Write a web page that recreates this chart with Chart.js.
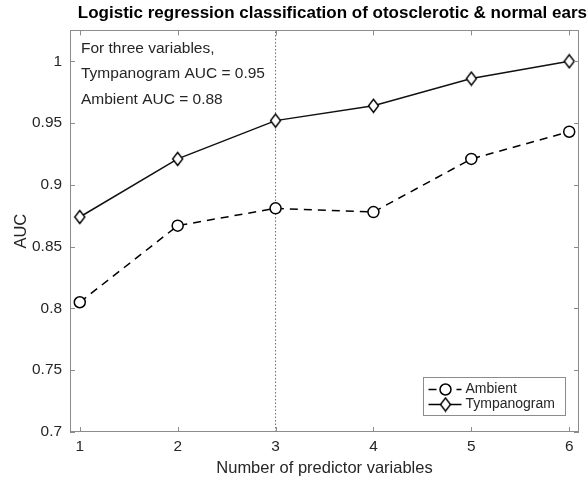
<!DOCTYPE html>
<html>
<head>
<meta charset="utf-8">
<script src="https://cdn.jsdelivr.net/npm/chart.js@4"></script>
<style>
  html, body { margin: 0; padding: 0; background: #fff; }
</style>
</head>
<body>
<canvas id="aucChart" width="587" height="481"></canvas>
<script>
const predictorCounts = [1, 2, 3, 4, 5, 6];
const ambientAuc = [0.805, 0.867, 0.881, 0.878, 0.921, 0.943];
const tympanogramAuc = [0.874, 0.921, 0.952, 0.964, 0.986, 1.0];
const xTicks = [1, 2, 3, 4, 5, 6];
const yTicks = [0.7, 0.75, 0.8, 0.85, 0.9, 0.95, 1];
const xLimits = [0.9, 6.1];
const yLimits = [0.7, 1.025];
const markerLineX = 3;
const noteLines = ['For three variables,', 'Tympanogram AUC = 0.95', 'Ambient AUC = 0.88'];

const frameColor = '#8c8c8c';
const textColor = '#262626';
const fontFamily = '"Liberation Sans", Arial, Helvetica, sans-serif';

// narrow matlab-style diamond marker
function makeDiamond(w, h) {
  const c = document.createElement('canvas');
  c.width = w + 3;
  c.height = h + 3;
  const g = c.getContext('2d');
  const cx = c.width / 2, cy = c.height / 2;
  g.beginPath();
  g.moveTo(cx, cy - h / 2);
  g.lineTo(cx + w / 2, cy);
  g.lineTo(cx, cy + h / 2);
  g.lineTo(cx - w / 2, cy);
  g.closePath();
  g.fillStyle = '#fff';
  g.fill();
  g.strokeStyle = '#000';
  g.lineWidth = 1.4;
  g.stroke();
  return c;
}
const diamond = makeDiamond(10, 13);

function toPoints(values) {
  return predictorCounts.map((x, i) => ({ x, y: values[i] }));
}

const framePlugin = {
  id: 'matlabFrame',
  afterDatasetsDraw(chart) {
    const { ctx, chartArea: a, scales: { x, y } } = chart;
    const len = 5;
    ctx.save();
    ctx.strokeStyle = frameColor;
    ctx.lineWidth = 1;
    ctx.strokeRect(Math.round(a.left) + 0.5, Math.round(a.top) + 0.5,
      Math.round(a.right - a.left) - 1, Math.round(a.bottom - a.top) - 1);
    ctx.beginPath();
    x.ticks.forEach(t => {
      const px = Math.round(x.getPixelForValue(t.value)) + 0.5;
      ctx.moveTo(px, a.bottom); ctx.lineTo(px, a.bottom - len);
      ctx.moveTo(px, a.top); ctx.lineTo(px, a.top + len);
    });
    y.ticks.forEach(t => {
      const py = Math.round(y.getPixelForValue(t.value)) + 0.5;
      ctx.moveTo(a.left, py); ctx.lineTo(a.left + len, py);
      ctx.moveTo(a.right, py); ctx.lineTo(a.right - len, py);
    });
    ctx.stroke();
    ctx.restore();
  },
  afterDraw(chart) {
    const { ctx, chartArea: a } = chart;
    ctx.save();
    // annotation text
    ctx.fillStyle = textColor;
    ctx.textBaseline = 'middle';
    ctx.font = `15.5px ${fontFamily}`;
    noteLines.forEach((line, i) => {
      ctx.fillText(line, a.left + 11, a.top + 18 + i * 25.5);
    });

    // legend box in lower right
    const boxW = 142, boxH = 38;
    const bx = Math.round(a.right - 14 - boxW) + 0.5;
    const by = Math.round(a.bottom - 17 - boxH) + 0.5;
    ctx.fillStyle = '#fff';
    ctx.fillRect(bx, by, boxW, boxH);
    ctx.strokeStyle = frameColor;
    ctx.lineWidth = 1;
    ctx.strokeRect(bx, by, boxW, boxH);
    ctx.font = `14px ${fontFamily}`;
    const entries = chart.data.datasets.filter(d => d.inLegend);
    entries.forEach((d, i) => {
      const ry = by + 12 + i * 15;
      ctx.strokeStyle = '#000';
      ctx.lineWidth = d.borderWidth;
      ctx.setLineDash(d.borderDash || []);
      ctx.beginPath();
      ctx.moveTo(bx + 5, ry);
      ctx.lineTo(bx + 38, ry);
      ctx.stroke();
      ctx.setLineDash([]);
      const mx = bx + 22;
      if (d.pointStyle === 'circle') {
        ctx.beginPath();
        ctx.arc(mx, ry, d.pointRadius, 0, Math.PI * 2);
        ctx.fillStyle = '#fff';
        ctx.fill();
        ctx.lineWidth = d.pointBorderWidth;
        ctx.stroke();
      } else {
        ctx.drawImage(d.pointStyle, mx - d.pointStyle.width / 2, ry - d.pointStyle.height / 2);
      }
      ctx.fillStyle = textColor;
      ctx.fillText(d.label, bx + 42, ry);
    });
    ctx.restore();
  },
};

const chart = new Chart(document.getElementById('aucChart').getContext('2d'), {
  type: 'line',
  data: {
    datasets: [
      {
        label: 'Ambient',
        inLegend: true,
        data: toPoints(ambientAuc),
        borderColor: '#000',
        borderWidth: 1.5,
        borderDash: [8, 6],
        pointStyle: 'circle',
        pointRadius: 5.5,
        pointBorderWidth: 1.5,
        pointBackgroundColor: '#fff',
        pointBorderColor: '#000',
        tension: 0,
      },
      {
        label: 'Tympanogram',
        inLegend: true,
        data: toPoints(tympanogramAuc),
        borderColor: '#111',
        borderWidth: 1.5,
        pointStyle: diamond,
        pointRadius: 6,
        tension: 0,
      },
      {
        label: 'three variables',
        data: [{ x: markerLineX, y: yLimits[0] }, { x: markerLineX, y: yLimits[1] }],
        borderColor: '#6e6e6e',
        borderWidth: 1,
        borderDash: [1.5, 2],
        pointRadius: 0,
      },
    ],
  },
  options: {
    responsive: false,
    animation: false,
    devicePixelRatio: 1,
    layout: { padding: 0 },
    scales: {
      x: {
        type: 'linear',
        min: xLimits[0],
        max: xLimits[1],
        afterBuildTicks: s => { s.ticks = xTicks.map(v => ({ value: v })); },
        afterFit: s => { s.height = 49; },
        grid: { display: false, drawTicks: false },
        border: { display: false },
        ticks: {
          autoSkip: false,
          maxRotation: 0,
          padding: 6,
          color: textColor,
          font: { family: fontFamily, size: 15.4 },
        },
        title: {
          display: true,
          text: 'Number of predictor variables',
          color: textColor,
          font: { family: fontFamily, size: 16.5 },
          padding: { top: 0, bottom: 3 },
        },
      },
      y: {
        type: 'linear',
        min: yLimits[0],
        max: yLimits[1],
        afterBuildTicks: s => { s.ticks = yTicks.map(v => ({ value: v })); },
        afterFit: s => { s.width = 70; },
        grid: { display: false, drawTicks: false },
        border: { display: false },
        ticks: {
          autoSkip: false,
          padding: 8,
          color: textColor,
          font: { family: fontFamily, size: 15.4 },
          callback: v => String(+Number(v).toFixed(2)),
        },
        title: {
          display: true,
          text: 'AUC',
          color: textColor,
          font: { family: fontFamily, size: 16.5 },
          padding: { top: 12, bottom: 0 },
        },
      },
      spacer: {
        type: 'linear',
        position: 'right',
        grid: { display: false, drawTicks: false },
        border: { display: false },
        ticks: { display: false },
        afterFit: s => { s.width = 8; },
      },
    },
    plugins: {
      legend: { display: false },
      tooltip: { enabled: false },
      title: {
        display: true,
        text: 'Logistic regression classification of otosclerotic & normal ears',
        align: 'end',
        color: '#000',
        font: { family: fontFamily, size: 17, weight: 'bold' },
        padding: { top: 3, bottom: 7 },
      },
    },
  },
  plugins: [framePlugin],
});
</script>
</body>
</html>
